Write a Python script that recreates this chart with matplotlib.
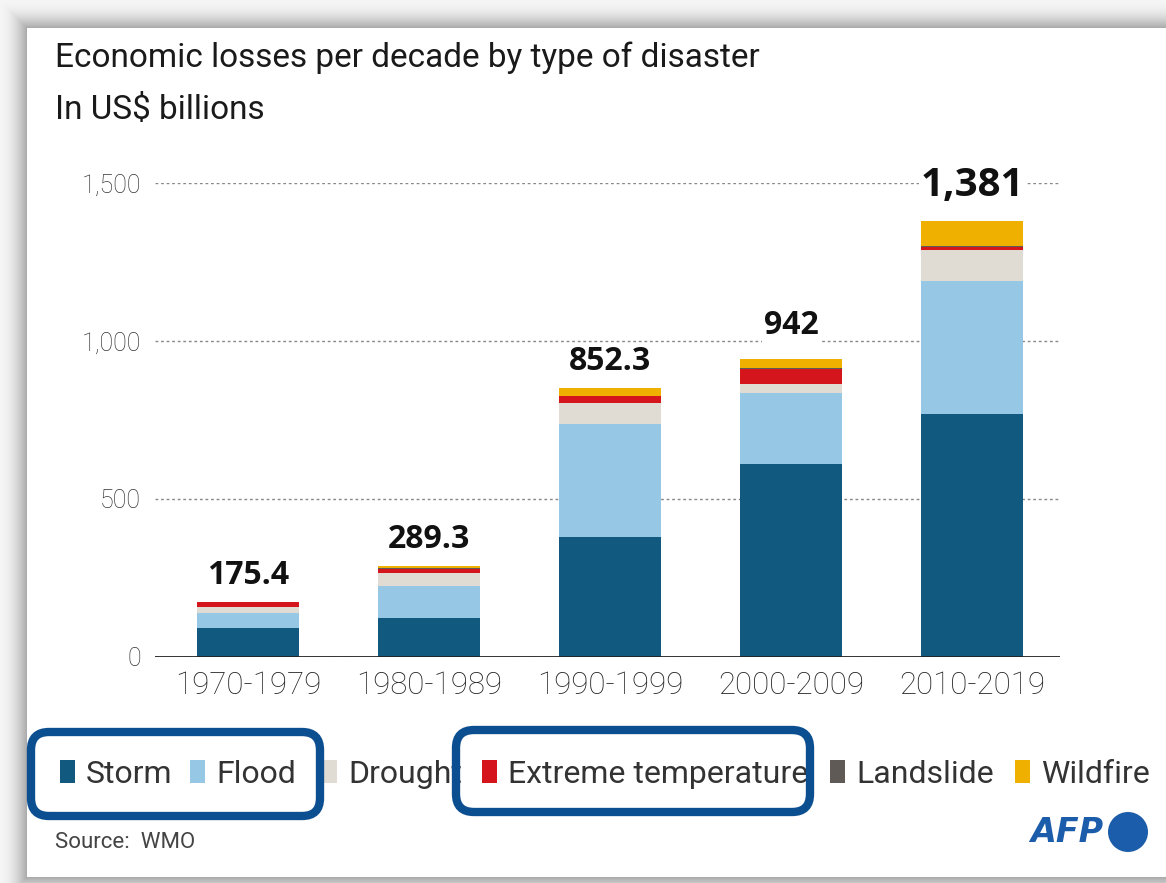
import matplotlib.pyplot as plt
import numpy as np
from matplotlib.patches import FancyBboxPatch, Rectangle, Circle

# Economic losses per decade (US$ billions), by disaster type
decades = ["1970-1979", "1980-1989", "1990-1999", "2000-2009", "2010-2019"]
total_labels = ["175.4", "289.3", "852.3", "942", "1,381"]

storm = [91, 122, 380, 610, 770]
flood = [48, 104, 356, 225, 420]
drought = [19, 39, 67, 30, 98]
extreme_temp = [15, 15, 22, 47, 10]
landslide = [1.4, 2, 2, 2, 3]
wildfire = [1, 7.3, 25.3, 28, 80]

disasters = ["Storm", "Flood", "Drought", "Extreme temperature", "Landslide", "Wildfire"]
colors = ["#12597f", "#96c8e6", "#e0dcd4", "#d4151c", "#5f5a55", "#f0b000"]

SANS = ["Roboto", "DejaVu Sans"]
BOLD = ["Open Sans", "DejaVu Sans"]
AFP_BLUE = "#1b5cab"

W, H = 1166, 883
fig = plt.figure(figsize=(W / 100, H / 100), dpi=100)
fig.patch.set_facecolor("#f7f7f7")

# pixel-unit layer for the card, headings, legend and logo
bg = fig.add_axes([0, 0, 1, 1], zorder=0)
bg.set_xlim(0, W)
bg.set_ylim(H, 0)
bg.axis("off")

# soft shadow around the white card
n = 28
for k in range(n, 0, -1):
    shade = 0.96 - 0.31 * (1 - k / n) ** 2
    bg.add_patch(Rectangle((27 - k, 28 - k), W, 849 + 2 * k, color=str(shade), lw=0))
bg.add_patch(Rectangle((27, 28), W, 849, color="white", lw=0))

bg.text(55, 58, "Economic losses per decade by type of disaster", fontsize=24,
        family=SANS, va="center", color="#1a1a1a")
bg.text(55, 110, "In US$ billions", fontsize=24, family=SANS, va="center", color="#1a1a1a")

# chart
ax = fig.add_axes([155 / W, (H - 657) / H, (1060 - 155) / W, (657 - 183) / H], zorder=1)
ax.patch.set_visible(False)

series = [storm, flood, drought, extreme_temp, landslide, wildfire]
x = np.arange(len(decades))
bottom = np.zeros(len(decades))
for vals, name, c in zip(series, disasters, colors):
    ax.bar(x, vals, 0.565, bottom=bottom, color=c, label=name, zorder=2)
    bottom += np.array(vals)

label_sizes = [23, 23, 23, 23, 29]
label_offsets = [13, 13, 13, 18, 18]
for xi, top, lab, fs, off in zip(x, bottom, total_labels, label_sizes, label_offsets):
    ax.annotate(lab, (xi, top), xytext=(0, off), textcoords="offset points",
                ha="center", va="baseline", fontsize=fs, fontweight="bold",
                family=BOLD, color="#111",
                bbox=dict(fc="white", ec="none", pad=1), zorder=4)

ax.set_xlim(-0.514, 4.486)
ax.set_ylim(0, 1500)
ax.set_xticks(x, decades)
ax.set_yticks([0, 500, 1000, 1500], ["0", "500", "1,000", "1,500"])
ax.tick_params(axis="y", length=0, pad=10, labelsize=18, labelcolor="#333")
ax.tick_params(axis="x", length=0, pad=10, labelsize=22.5, labelcolor="#222")
for t in ax.get_xticklabels() + ax.get_yticklabels():
    t.set_family(SANS)
    t.set_fontweight("light")
ax.grid(axis="y", ls=(0, (2, 2)), color="#888", lw=1)
ax.grid(axis="x", visible=False)
ax.set_axisbelow(True)
ax.axhline(0, color="#222", lw=2, zorder=3)
for s in ax.spines.values():
    s.set_visible(False)

# legend row
marker_x = [60, 190, 322, 482, 830, 1015]
for name, c, mx in zip(disasters, colors, marker_x):
    bg.add_patch(Rectangle((mx, 760), 15, 23, color=c, lw=0))
    bg.text(mx + 26, 783, name, fontsize=23, family=SANS, va="baseline", color="#333")

# highlight boxes over the legend
for (bx, by, bw, bh) in [(31, 732, 289, 84), (456, 730, 354, 82)]:
    bg.add_patch(FancyBboxPatch((bx, by), bw, bh, boxstyle="round,pad=0,rounding_size=18",
                                fill=False, ec="#0c4f91", lw=6, zorder=5))

bg.text(55, 843, "Source:  WMO", fontsize=16, family=SANS, va="center", color="#444")

# logo
bg.text(1103, 833, "AFP", ha="right", va="center", fontsize=24, fontweight="heavy",
        style="italic", family=["DejaVu Sans"], color=AFP_BLUE)
bg.add_patch(Circle((1128, 832), 20, color=AFP_BLUE, lw=0))

fig.savefig("out.png", dpi=100)
